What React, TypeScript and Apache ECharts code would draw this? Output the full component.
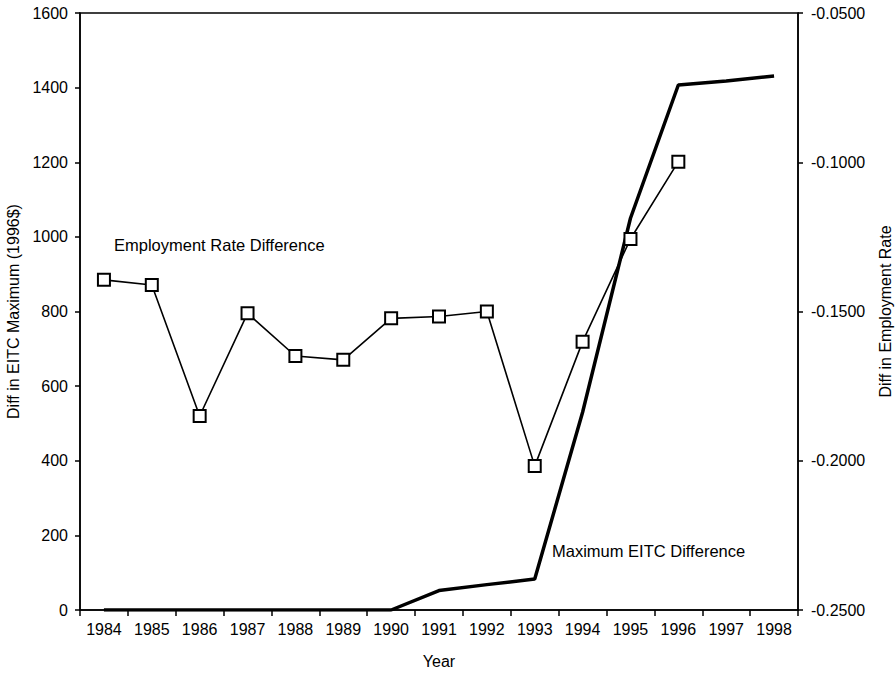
import React, { useEffect, useRef } from "react";
import * as echarts from "echarts";

const years = ["1984","1985","1986","1987","1988","1989","1990","1991","1992","1993","1994","1995","1996","1997","1998"];
const eitcDiff = [0, 0, 0, 0, 0, 0, 0, 52, 68, 83, 530, 1050, 1407, 1418, 1431];
const empDiff = [-0.1394, -0.1411, -0.185, -0.1506, -0.1649, -0.1662, -0.1523, -0.1517, -0.150, -0.2018, -0.1601, -0.1257, -0.0998, null, null];
const leftTicks = { min: 0, max: 1600, interval: 200 };
const rightTicks = { min: -0.25, max: -0.05, interval: 0.05 };

const FONT = "'Liberation Sans', Arial, sans-serif";

export default function App() {
  const ref = useRef<HTMLDivElement>(null);
  useEffect(() => {
    if (!ref.current) return;
    const chart = echarts.init(ref.current, undefined, { renderer: "svg" });
    const axisText = { color: "#000", fontSize: 16, fontFamily: FONT };
    chart.setOption({
      animation: false,
      backgroundColor: "#fff",
      grid: { left: 80, right: 97, top: 13, bottom: 63, outerBoundsMode: "none", containLabel: false, show: true, borderColor: "#000", borderWidth: 1.5, backgroundColor: "transparent" },
      xAxis: {
        type: "category",
        data: years,
        boundaryGap: true,
        name: "Year",
        nameLocation: "middle",
        nameGap: 43,
        nameTextStyle: axisText,
        axisLine: { lineStyle: { color: "#000", width: 1.5 } },
        axisTick: { show: true, length: 6, interval: 0, lineStyle: { color: "#000", width: 1.5 } },
        axisLabel: { ...axisText, margin: 11, interval: 0 },
        splitLine: { show: false },
      },
      yAxis: [
        {
          type: "value",
          min: leftTicks.min,
          max: leftTicks.max,
          interval: leftTicks.interval,
          name: "Diff in EITC Maximum (1996$)",
          nameLocation: "middle",
          nameGap: 59,
          nameTextStyle: axisText,
          axisLine: { show: true, lineStyle: { color: "#000", width: 1.5 } },
          axisTick: { show: true, length: 5, lineStyle: { color: "#000", width: 1.5 } },
          axisLabel: { ...axisText, margin: 12, formatter: (v: number) => String(v) },
          splitLine: { show: false },
        },
        {
          type: "value",
          position: "right",
          min: rightTicks.min,
          max: rightTicks.max,
          interval: rightTicks.interval,
          name: "Diff in Employment Rate",
          nameLocation: "middle",
          nameGap: 79,
          nameRotate: 90,
          nameTextStyle: axisText,
          axisLine: { show: true, lineStyle: { color: "#000", width: 1.5 } },
          axisTick: { show: true, length: 5, lineStyle: { color: "#000", width: 1.5 } },
          axisLabel: { ...axisText, margin: 13, formatter: (v: number) => v.toFixed(4) },
          splitLine: { show: false },
        },
      ],
      series: [
        {
          name: "Maximum EITC Difference",
          type: "line",
          yAxisIndex: 0,
          data: eitcDiff,
          symbol: "none",
          lineStyle: { color: "#000", width: 3.5 },
          z: 3,
        },
        {
          name: "Employment Rate Difference",
          type: "line",
          yAxisIndex: 1,
          data: empDiff,
          symbol: "rect",
          symbolSize: 12,
          itemStyle: { color: "#fff", borderColor: "#000", borderWidth: 2 },
          lineStyle: { color: "#000", width: 1.6 },
          z: 4,
        },
      ],
      graphic: [
        { type: "text", left: 114, top: 236, style: { text: "Employment Rate Difference", fill: "#000", font: `16.5px ${FONT}` } },
        { type: "text", left: 552, top: 542, style: { text: "Maximum EITC Difference", fill: "#000", font: `16.5px ${FONT}` } },
      ],
    });
    return () => chart.dispose();
  }, []);
  return <div ref={ref} style={{ width: 895, height: 673, position: "absolute", left: 0, top: 0 }} />;
}
